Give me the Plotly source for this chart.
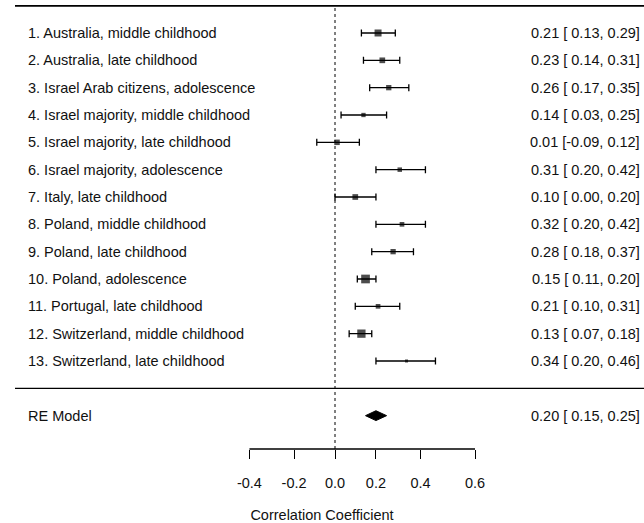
import numpy as np
import plotly.graph_objects as go

labels = [
    "1. Australia, middle childhood",
    "2. Australia, late childhood",
    "3. Israel Arab citizens, adolescence",
    "4. Israel majority, middle childhood",
    "5. Israel majority, late childhood",
    "6. Israel majority, adolescence",
    "7. Italy, late childhood",
    "8. Poland, middle childhood",
    "9. Poland, late childhood",
    "10. Poland, adolescence",
    "11. Portugal, late childhood",
    "12. Switzerland, middle childhood",
    "13. Switzerland, late childhood",
]
est = [0.21, 0.23, 0.26, 0.14, 0.01, 0.31, 0.10, 0.32, 0.28, 0.15, 0.21, 0.13, 0.34]
lower = [0.13, 0.14, 0.17, 0.03, -0.09, 0.20, 0.00, 0.20, 0.18, 0.11, 0.10, 0.07, 0.20]
upper = [0.29, 0.31, 0.35, 0.25, 0.12, 0.42, 0.20, 0.42, 0.37, 0.20, 0.31, 0.18, 0.46]
weights = [7.0, 5.7, 5.3, 4.3, 5.5, 4.5, 5.7, 4.7, 5.3, 8.7, 4.7, 8.3, 3.0]

re_est, re_lower, re_upper = 0.20, 0.15, 0.25
tick_labels = [-0.4, -0.2, 0.0, 0.2, 0.4, 0.6]

k = len(labels)
rows = [k - i for i in range(k)]  # 13 .. 1
z = np.arctanh(est)
zl = np.arctanh(lower)
zu = np.arctanh(upper)

FONT = "Liberation Sans, Arial, sans-serif"
FS = 14.5
TXT = "#111"

x0 = -335 / 202
x1 = (644 - 335) / 202
xl = (15 - 335) / 202

fig = go.Figure()

# top rule drawn in the subplot itself
fig.add_trace(go.Scatter(
    x=[xl, x1], y=[k + 1, k + 1], mode="lines",
    line=dict(color="black", width=1.5), cliponaxis=False,
    hoverinfo="skip", showlegend=False,
))

fig.add_trace(go.Scatter(
    x=z, y=rows, mode="markers",
    marker=dict(symbol="square", size=weights, color="black", line=dict(width=0)),
    error_x=dict(type="data", symmetric=False, array=zu - z, arrayminus=z - zl,
                 color="black", thickness=1.3, width=3.5),
    hoverinfo="skip", showlegend=False,
))

# RE model diamond
h = 0.18
rz, rl, ru = np.arctanh(re_est), np.arctanh(re_lower), np.arctanh(re_upper)
fig.add_trace(go.Scatter(
    x=[rl, rz, ru, rz, rl], y=[-1, -1 + h, -1, -1 - h, -1],
    mode="lines", fill="toself", fillcolor="black",
    line=dict(color="black", width=1), hoverinfo="skip", showlegend=False,
))

# annotations
for lab, r in zip(labels, rows):
    fig.add_annotation(x=26 / 644, xref="paper", y=r, yref="y", text=lab,
                       showarrow=False, xanchor="left", yanchor="middle",
                       font=dict(family=FONT, size=FS, color=TXT))
for e, lo, up, r in zip(est, lower, upper, rows):
    txt = f"{e:.2f} [{lo:5.2f}, {up:.2f}]".replace(" ", "\u00a0")
    fig.add_annotation(x=642 / 644, xref="paper", y=r, yref="y", text=txt,
                       showarrow=False, xanchor="right", yanchor="middle",
                       font=dict(family=FONT, size=FS, color=TXT))
fig.add_annotation(x=26 / 644, xref="paper", y=-1, yref="y", text="RE Model",
                   showarrow=False, xanchor="left", yanchor="middle",
                   font=dict(family=FONT, size=FS, color=TXT))
re_txt = f"{re_est:.2f} [{re_lower:5.2f}, {re_upper:.2f}]".replace(" ", "\u00a0")
fig.add_annotation(x=642 / 644, xref="paper", y=-1, yref="y", text=re_txt,
                   showarrow=False, xanchor="right", yanchor="middle",
                   font=dict(family=FONT, size=FS, color=TXT))

# lines
fig.add_shape(type="line", xref="paper", yref="y", x0=15 / 644, x1=1, y0=k + 1, y1=k + 1,
              line=dict(color="black", width=1.5), layer="above")
fig.add_shape(type="line", xref="paper", yref="y", x0=15 / 644, x1=1, y0=0, y1=0,
              line=dict(color="black", width=1.3))
fig.add_shape(type="line", xref="x", yref="y", x0=0, x1=0, y0=-2.22, y1=k + 1,
              line=dict(color="black", width=1, dash="dot"))
tv = np.arctanh(tick_labels)
fig.add_shape(type="line", xref="x", yref="paper", x0=tv[0], x1=tv[-1], y0=0, y1=0,
              line=dict(color="black", width=1.3))

fig.update_xaxes(range=[x0, x1], showgrid=False, zeroline=False, showline=False,
                 tickvals=tv, ticktext=[f"{t:.1f}" for t in tick_labels],
                 ticks="outside", ticklen=9, tickwidth=1.3, tickcolor="black",
                 ticklabelstandoff=12,
                 tickfont=dict(family=FONT, size=FS, color=TXT),
                 title=dict(text="Correlation Coefficient", standoff=20,
                            font=dict(family=FONT, size=FS, color=TXT)))
fig.update_yaxes(range=[-2.22, 14.207], visible=False)
fig.update_layout(width=644, height=523, margin=dict(l=0, r=0, t=0, b=74),
                  paper_bgcolor="white", plot_bgcolor="white", showlegend=False)

fig.write_html("out.html", config={"displayModeBar": False},
               post_script="document.body.style.margin='0';")
